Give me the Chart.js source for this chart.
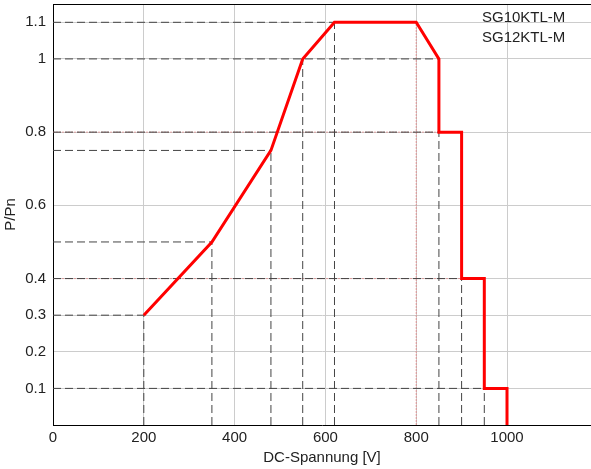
<!DOCTYPE html>
<html lang="de">
<head>
  <meta charset="UTF-8" />
  <title>P/Pn über DC-Spannung</title>
  <script src="https://cdn.jsdelivr.net/npm/chart.js"></script>
  <style>
    html, body { margin: 0; padding: 0; background: #fff; }
    #wrap { width: 591px; height: 469px; }
  </style>
</head>
<body>
  <div id="wrap"><canvas id="chart"></canvas></div>
  <script>
    // Leistungskurve
    const curveV = [200, 350, 480, 550, 620, 800, 850, 850, 900, 900, 950, 950, 1000, 1000];
    const curveP = [0.3, 0.5, 0.75, 1.0, 1.1, 1.1, 1.0, 0.8, 0.8, 0.4, 0.4, 0.1, 0.1, 0];

    // gestrichelte Hilfslinien: waagrecht (P bis V) und senkrecht (V ab P)
    const hRefP = [0.1, 0.3, 0.4, 0.5, 0.75, 0.8, 1.0, 1.1];
    const hRefV = [950, 200, 900, 350, 480, 850, 850, 620];
    const vRefV = [200, 350, 480, 550, 620, 850, 900, 950];
    const vRefP = [0.3, 0.5, 0.75, 1.0, 1.1, 0.8, 0.4, 0.1];

    // rötliche Markierungen
    const markHP = [0.8, 0.4];
    const markHV = [850, 900];
    const markVV = [800];
    const markVP = [1.1];

    const xTicks = [0, 200, 400, 600, 800, 1000];
    const yTicks = [0.1, 0.2, 0.3, 0.4, 0.6, 0.8, 1, 1.1];
    const modelLabels = ['SG10KTL-M', 'SG12KTL-M'];

    const FONT = "'Liberation Sans', Arial, sans-serif";
    Chart.defaults.font.family = FONT;
    Chart.defaults.font.size = 15;
    Chart.defaults.color = '#222';

    const seg = (pts, color, dash, order) => ({
      data: pts, showLine: true, borderColor: color, borderWidth: 1,
      borderDash: dash, pointRadius: 0, fill: false, order: order
    });

    const datasets = [{
      label: 'P/Pn',
      data: curveV.map((v, i) => ({ x: v, y: curveP[i] })),
      showLine: true, borderColor: '#ff0000', borderWidth: 3,
      pointRadius: 0, fill: false, order: 0
    }];
    markHP.forEach((p, i) => datasets.push(seg([{x: 0, y: p}, {x: markHV[i], y: p}], 'rgba(230,120,120,0.6)', [2, 1], 3)));
    markVV.forEach((v, i) => datasets.push(seg([{x: v, y: 0}, {x: v, y: markVP[i]}], 'rgba(230,120,120,0.7)', [2, 1], 3)));
    hRefP.forEach((p, i) => datasets.push(seg([{x: 0, y: p}, {x: hRefV[i], y: p}], '#444', [8, 4], 2)));
    vRefV.forEach((v, i) => datasets.push(seg([{x: v, y: 0}, {x: v, y: vRefP[i]}], '#444', [8, 4], 2)));

    const extras = {
      id: 'extras',
      afterDatasetsDraw(chart) {
        const { ctx, chartArea } = chart;
        ctx.save();
        ctx.strokeStyle = '#000';
        ctx.lineWidth = 1;
        ctx.beginPath();
        ctx.moveTo(chartArea.left, chartArea.top + 0.5);
        ctx.lineTo(chartArea.right, chartArea.top + 0.5);
        ctx.stroke();
        ctx.fillStyle = '#222';
        ctx.font = '15px ' + FONT;
        ctx.textBaseline = 'middle';
        modelLabels.forEach((t, i) => ctx.fillText(t, chartArea.right - 109, chartArea.top + 14 + i * 20));
        ctx.restore();
      }
    };

    new Chart(document.getElementById('chart'), {
      type: 'scatter',
      data: { datasets },
      plugins: [extras],
      options: {
        responsive: true,
        maintainAspectRatio: false,
        animation: false,
        layout: { padding: { top: 4, right: 0, left: 0, bottom: 0 } },
        plugins: { legend: { display: false }, tooltip: { enabled: false } },
        scales: {
          x: {
            type: 'linear', min: 0, max: 1185,
            afterBuildTicks: s => { s.ticks = xTicks.map(v => ({ value: v })); },
            afterFit: s => { s.height = 44; s.paddingRight = 0; },
            ticks: { padding: 4, callback: v => String(v) },
            grid: { color: '#cccccc', drawTicks: false },
            border: { color: '#000', width: 1 },
            title: { display: true, text: 'DC-Spannung [V]', padding: { top: 2, bottom: 2 } }
          },
          y: {
            type: 'linear', min: 0, max: 1.15,
            afterBuildTicks: s => { s.ticks = yTicks.map(v => ({ value: v })); },
            afterFit: s => { s.width = 53; s.paddingTop = 0; s.paddingBottom = 0; },
            ticks: { padding: 7, callback: v => String(v) },
            grid: { color: '#cccccc', drawTicks: false },
            border: { color: '#000', width: 1 },
            title: { display: true, text: 'P/Pn', padding: { top: 2, bottom: 2 } }
          }
        }
      }
    });
  </script>
</body>
</html>
